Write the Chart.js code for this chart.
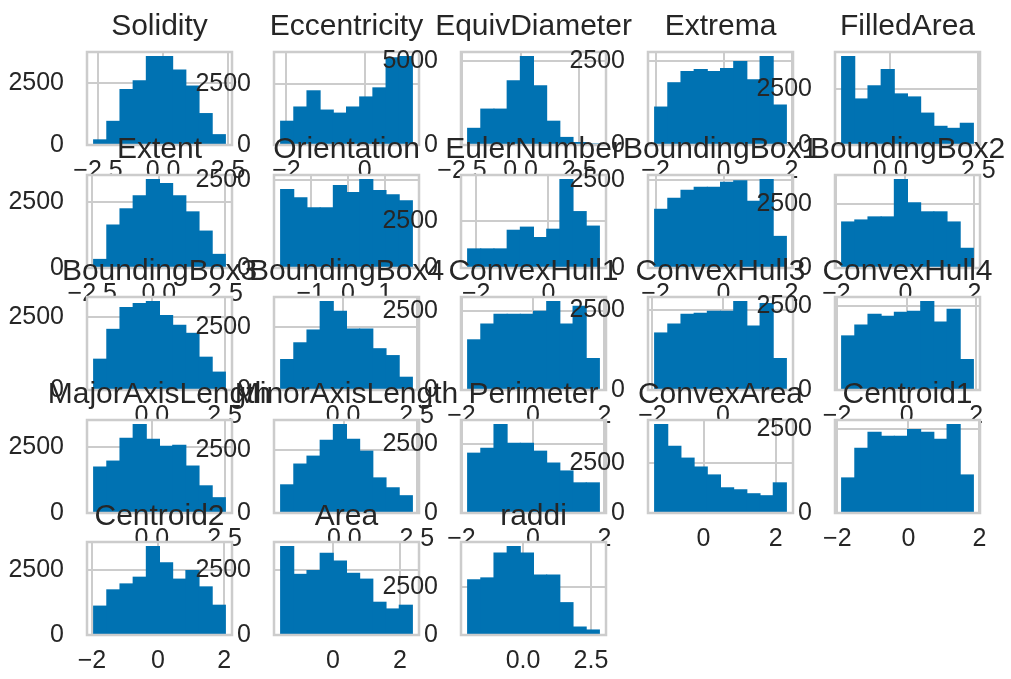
<!DOCTYPE html>
<html>
<head>
<meta charset="utf-8">
<script src="https://cdn.jsdelivr.net/npm/chart.js@4"></script>
<style>
  body { margin: 0; background: #fff; }
  #figure { position: relative; width: 1011px; height: 679px; overflow: hidden; background: #fff; }
  #figure canvas { position: absolute; }
</style>
</head>
<body>
<div id="figure"></div>
<script>
// ------------------------
// DATA
// ------------------------

const titles = ['Solidity', 'Eccentricity', 'EquivDiameter', 'Extrema', 'FilledArea',
  'Extent', 'Orientation', 'EulerNumber', 'BoundingBox1', 'BoundingBox2',
  'BoundingBox3', 'BoundingBox4', 'ConvexHull1', 'ConvexHull3', 'ConvexHull4',
  'MajorAxisLength', 'MinorAxisLength', 'Perimeter', 'ConvexArea', 'Centroid1',
  'Centroid2', 'Area', 'raddi']

// counts per bin (10 bins each)
const solidity = [210, 960, 2250, 2600, 3590, 3590, 3040, 2390, 1275, 420]
const eccentricity = [970, 1550, 2210, 1425, 1300, 1550, 1960, 2330, 3560, 3610]
const equivDiameter = [1000, 2150, 2150, 3850, 5300, 3545, 1425, 455, 150, 30]
const extrema = [1136, 1864, 2197, 2258, 2197, 2288, 2500, 1955, 2650, 1197]
const filledArea = [3940, 2050, 2635, 3355, 2275, 2140, 1420, 833, 743, 968]
const extent = [325, 1622, 2233, 2729, 3340, 3187, 2729, 2118, 1393, 515]
const orientation = [2240, 2009, 1720, 1720, 2356, 2153, 2529, 2211, 2095, 1922]
const eulerNumber = [1016, 1016, 1016, 2005, 2170, 1620, 2060, 4700, 2995, 2225]
const boundingBox1 = [1671, 1986, 2214, 2300, 2300, 2443, 2480, 1900, 2520, 900]
const boundingBox2 = [1792, 1870, 1989, 1989, 3445, 2540, 2186, 2186, 1792, 768]
const boundingBox3 = [1054, 2074, 2822, 2958, 3027, 2550, 2210, 1938, 1122, 612]
const boundingBox4 = [1211, 1875, 2383, 3516, 3125, 2422, 2422, 1640, 1367, 508]
const convexHull1 = [1594, 2094, 2406, 2406, 2406, 2500, 2812, 2094, 2656, 1000]
const convexHull3 = [1790, 2068, 2377, 2407, 2469, 2469, 2778, 2006, 2716, 988]
const convexHull4 = [1618, 1941, 2265, 2206, 2324, 2353, 2647, 2030, 2412, 912]
const majorAxisLength = [1735, 1959, 2817, 3340, 2780, 2519, 2556, 1772, 1026, 578]
const minorAxisLength = [1122, 1949, 2264, 2894, 3524, 2933, 2461, 1398, 1004, 689]
const perimeter = [2160, 2339, 3196, 2518, 2518, 2232, 1804, 1518, 1089, 1089]
const convexArea = [4430, 3341, 2747, 2302, 1906, 1262, 1163, 965, 866, 1510]
const centroid1 = [1050, 1938, 2411, 2293, 2293, 2500, 2411, 2204, 2648, 1139]
const centroid2 = [1120, 1750, 1980, 2240, 3430, 2800, 2165, 2500, 1865, 1155]
const area = [3430, 2350, 2500, 3170, 2870, 2390, 2165, 1270, 1010, 1155]
const raddi = [2900, 3000, 4300, 4650, 4300, 3150, 3150, 1700, 420, 265]

const counts = [solidity, eccentricity, equivDiameter, extrema, filledArea,
  extent, orientation, eulerNumber, boundingBox1, boundingBox2,
  boundingBox3, boundingBox4, convexHull1, convexHull3, convexHull4,
  majorAxisLength, minorAxisLength, perimeter, convexArea, centroid1,
  centroid2, area, raddi]

// smallest and largest value of each column (histogram range)
const binLow = [-2.67, -2.15, -2.26, -2.03, -1.38,
  -2.45, -1.81, -2.24, -2.03, -1.85,
  -2.0, -2.13, -1.83, -1.94, -1.87,
  -2.0, -2.2, -1.83, -1.36, -1.88,
  -1.95, -1.56, -2.04]
const binHigh = [2.40, 1.22, 3.36, 1.85, 2.36,
  2.5, 1.73, 1.41, 1.85, 1.97,
  2.53, 2.36, 1.86, 1.8, 1.92,
  2.53, 2.35, 1.86, 2.3, 1.83,
  2.04, 2.37, 2.81]

// x tick candidates
const ticksHalf = [-2.5, 0, 2.5]
const ticksTwo = [-2, 0, 2]
const ticksOne = [-1, 0, 1]
const xTicks = [ticksHalf, ticksTwo, ticksHalf, ticksTwo, ticksHalf,
  ticksHalf, ticksOne, ticksTwo, ticksTwo, ticksTwo,
  ticksHalf, ticksHalf, ticksTwo, ticksTwo, ticksTwo,
  ticksHalf, ticksHalf, ticksTwo, ticksTwo, ticksTwo,
  ticksTwo, ticksTwo, ticksHalf]

// y tick step of each axes
const yStep = [2500, 2500, 5000, 2500, 2500,
  2500, 2500, 2500, 2500, 2500,
  2500, 2500, 2500, 2500, 2500,
  2500, 2500, 2500, 2500, 2500,
  2500, 2500, 2500]

// ------------------------
// STYLE / LAYOUT
// ------------------------

const barColor = '#0072B2'
const gridColor = '#cccccc'
const textColor = '#262626'
const fontFamily = '"Liberation Sans", Arial, sans-serif'

const plotW = 145
const plotH = 93
const padL = 90, padR = 40, padT = 56, padB = 52

const figure = document.querySelector('#figure')

// white axes background, covers what earlier axes drew there
const plotBackground = {
  id: 'plotBackground',
  beforeDraw(chart) {
    const a = chart.chartArea
    const ctx = chart.ctx
    ctx.save()
    ctx.fillStyle = '#ffffff'
    ctx.fillRect(a.left, a.top, a.width, a.height)
    ctx.restore()
  }
}

// light grey frame round the axes
const plotFrame = {
  id: 'plotFrame',
  afterDatasetsDraw(chart) {
    const a = chart.chartArea
    const ctx = chart.ctx
    ctx.save()
    ctx.strokeStyle = gridColor
    ctx.lineWidth = 2.5
    ctx.strokeRect(a.left, a.top, a.width, a.height)
    ctx.restore()
  }
}

// axes title, free to run past the axes width like matplotlib
const plotTitle = {
  id: 'plotTitle',
  afterDraw(chart, args, opts) {
    const a = chart.chartArea
    const ctx = chart.ctx
    ctx.save()
    ctx.font = '30px ' + fontFamily
    ctx.fillStyle = textColor
    ctx.textAlign = 'center'
    ctx.textBaseline = 'alphabetic'
    ctx.fillText(opts.text, (a.left + a.right) / 2, a.top - 17)
    ctx.restore()
  }
}

function fmtTick(v, decimals) {
  return v.toFixed(decimals).replace('-', '\u2212')
}

// ------------------------
// HISTOGRAMS
// ------------------------

titles.forEach((title, i) => {
  const row = Math.floor(i / 5)
  const col = i % 5
  const left = Math.round(87 + col * 187)
  const top = Math.round(52 + row * 122.5)

  const canvas = document.createElement('canvas')
  canvas.width = plotW + padL + padR
  canvas.height = plotH + padT + padB
  canvas.style.left = (left - padL) + 'px'
  canvas.style.top = (top - padT) + 'px'
  figure.appendChild(canvas)

  const lo = binLow[i]
  const hi = binHigh[i]
  const binW = (hi - lo) / counts[i].length
  const xMin = lo - 0.05 * (hi - lo)
  const xMax = hi + 0.05 * (hi - lo)
  const yMax = Math.max(...counts[i]) * 1.05
  const decimals = xTicks[i].some(v => v % 1 !== 0) ? 1 : 0

  new Chart(canvas, {
    type: 'bar',
    data: {
      datasets: [{
        data: counts[i].map((c, k) => ({ x: lo + (k + 0.5) * binW, y: c })),
        backgroundColor: barColor,
        borderWidth: 0,
        barPercentage: 1,
        categoryPercentage: 1,
        inflateAmount: 0.5
      }]
    },
    options: {
      responsive: false,
      animation: false,
      devicePixelRatio: 1,
      layout: { padding: { left: 0, right: padR, top: padT, bottom: 0 } },
      plugins: {
        legend: { display: false },
        tooltip: { enabled: false },
        plotTitle: { text: title }
      },
      scales: {
        x: {
          type: 'linear',
          min: xMin,
          max: xMax,
          offset: false,
          grid: { color: gridColor, lineWidth: 2, drawTicks: false, offset: false },
          border: { display: false },
          ticks: {
            color: textColor,
            font: { family: fontFamily, size: 25 },
            padding: 11,
            maxRotation: 0,
            minRotation: 0,
            autoSkip: false,
            callback: v => fmtTick(v, decimals)
          },
          afterBuildTicks: s => {
            s.ticks = xTicks[i].filter(v => v >= xMin && v <= xMax).map(v => ({ value: v }))
          },
          afterFit: s => {
            s.height = padB
            s.paddingLeft = 0
            s.paddingRight = 0
          }
        },
        y: {
          type: 'linear',
          min: 0,
          max: yMax,
          grid: { color: gridColor, lineWidth: 2, drawTicks: false },
          border: { display: false },
          ticks: {
            color: textColor,
            font: { family: fontFamily, size: 25 },
            padding: 23,
            autoSkip: false,
            callback: v => String(v)
          },
          afterBuildTicks: s => {
            const vals = []
            for (let v = 0; v <= yMax; v += yStep[i]) vals.push({ value: v })
            s.ticks = vals
          },
          afterFit: s => {
            s.width = padL
            s.paddingTop = 0
            s.paddingBottom = 0
          }
        }
      }
    },
    plugins: [plotBackground, plotFrame, plotTitle]
  })
})
</script>
</body>
</html>
